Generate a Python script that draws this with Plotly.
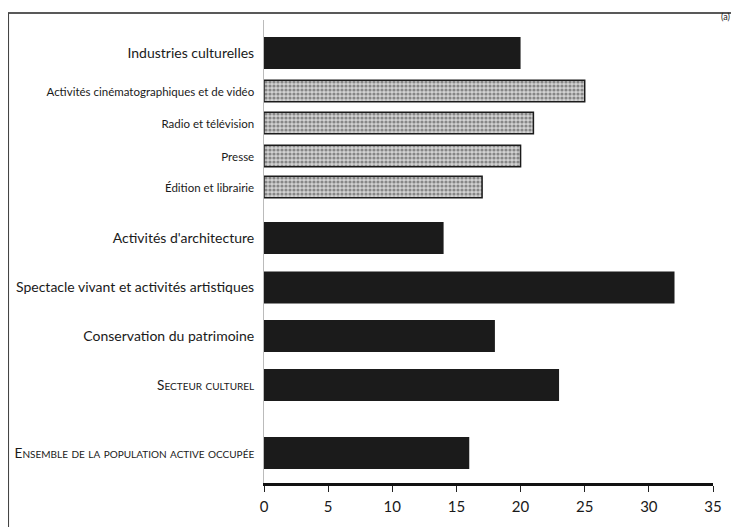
import plotly.graph_objects as go

# categories (top to bottom) and values (%)
categories = [
    "Industries culturelles",
    "Activités cinématographiques et de vidéo",
    "Radio et télévision",
    "Presse",
    "Édition et librairie",
    "Activités d'architecture",
    "Spectacle vivant et activités artistiques",
    "Conservation du patrimoine",
    "Secteur culturel",
    "Ensemble de la population active occupée",
]
values = [20, 25, 21, 20, 17, 14, 32, 18, 23, 16]
kinds = ["main", "sub", "sub", "sub", "sub", "main", "main", "main", "caps", "caps"]
x_ticks = [0, 5, 10, 15, 20, 25, 30, 35]

# layout: vertical gaps between rows (px-like units), bar thickness per kind
gaps = [0, 38, 32, 33, 31, 51, 49.5, 48.5, 49, 68]
thick = {"main": 32, "sub": 21.5, "caps": 32}

ypos = []
acc = 0
for g in gaps:
    acc += g
    ypos.append(acc)

FONT = "Lato, Liberation Sans, sans-serif"


def label(txt, kind):
    if kind == "sub":
        return "<span style='font-size:11.5px'>" + txt + "</span>"
    if kind == "caps":
        return "<span style='font-variant:small-caps;font-size:13.6px'>" + txt + "</span>"
    return txt


main_idx = [i for i, k in enumerate(kinds) if k != "sub"]
sub_idx = [i for i, k in enumerate(kinds) if k == "sub"]

fig = go.Figure()
fig.add_trace(go.Bar(
    orientation="h",
    x=[values[i] for i in main_idx],
    y=[ypos[i] for i in main_idx],
    width=[thick[kinds[i]] for i in main_idx],
    marker=dict(color="#1b1b1b", line=dict(width=0)),
    hoverinfo="x",
))
fig.add_trace(go.Bar(
    orientation="h",
    x=[values[i] for i in sub_idx],
    y=[ypos[i] for i in sub_idx],
    width=[thick[kinds[i]] for i in sub_idx],
    marker=dict(
        color="#c0c0c0",
        line=dict(color="#1b1b1b", width=1.5),
        pattern=dict(shape=".", fgcolor="#3a3a3a", bgcolor="#d2d2d2", size=4, solidity=0.5),
    ),
    hoverinfo="x",
))

# page body adds 8px offset, so the figure is drawn 8px smaller
L, R, T, B = 256, 26, 12, 44
W, H = 731, 519
pw, ph = W - L - R, H - T - B

fig.update_layout(
    width=W, height=H,
    margin=dict(l=L, r=R, t=T, b=B),
    paper_bgcolor="white", plot_bgcolor="white",
    showlegend=False, barmode="overlay",
    font=dict(family=FONT, color="#1a1a1a", size=14),
    xaxis=dict(
        range=[0, 35], tickvals=x_ticks, ticks="outside", ticklen=6,
        tickwidth=1, tickcolor="#222", showline=True, linecolor="#111",
        linewidth=2.5, showgrid=False, zeroline=False, automargin=False,
        tickfont=dict(size=15), ticklabelstandoff=2,
    ),
    yaxis=dict(
        range=[ypos[-1] + 30, -33], tickvals=ypos,
        ticktext=[label(c, k) for c, k in zip(categories, kinds)],
        showline=True, linecolor="#bbbbbb", linewidth=1, automargin=False,
        showgrid=False, zeroline=False, ticks="", ticklabelstandoff=6,
        tickfont=dict(size=14),
    ),
    shapes=[
        dict(type="line", xref="paper", yref="paper",
             x0=-L / pw, x1=(W - L) / pw,
             y0=1 + (T - 5) / ph, y1=1 + (T - 5) / ph,
             line=dict(color="#222", width=1.5)),
        dict(type="line", xref="paper", yref="paper",
             x0=-L / pw + 0.001, x1=-L / pw + 0.001,
             y0=-B / ph, y1=1 + (T - 5) / ph,
             line=dict(color="#444", width=1.2)),
    ],
    annotations=[
        dict(text="(a)", xref="paper", yref="paper", x=(724 - L) / pw,
             y=1 + (T - 1) / ph, showarrow=False, font=dict(size=9)),
    ],
)

fig.write_html("out.html")
